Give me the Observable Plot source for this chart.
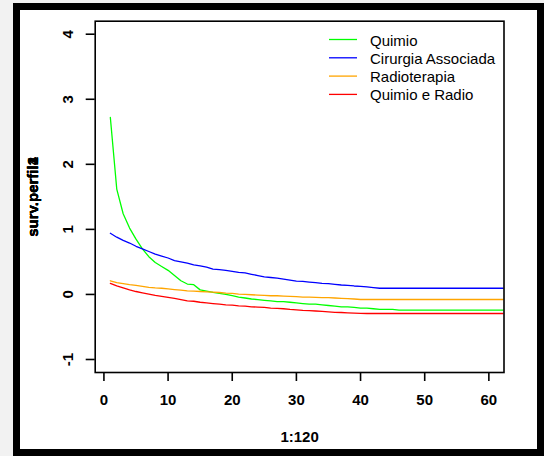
<!DOCTYPE html>
<html>
<head>
<meta charset="utf-8">
<script src="https://cdn.jsdelivr.net/npm/d3@7"></script>
<script src="https://cdn.jsdelivr.net/npm/@observablehq/plot@0.6"></script>
<style>
  html, body { margin: 0; padding: 0; background: #f2f2f2; }
  #wrap { position: relative; width: 544px; height: 456px; overflow: hidden;
          font-family: "Liberation Sans", Arial, sans-serif; }
  #frame { position: absolute; left: 13px; top: 3px; width: 531px; height: 453px;
           border: 7px solid #000; box-sizing: border-box; background: #fff; }
  #chart { position: absolute; left: 0; top: 0; }
  #legendLines { position: absolute; left: 0; top: 0; }
  .lg-text { position: absolute; font-size: 15px; line-height: 18px; color: #000; white-space: nowrap; }
  [aria-label="x-axis tick"] path, [aria-label="y-axis tick"] path,
  [aria-label="x-axis"] line, [aria-label="y-axis"] line { stroke-width: 1.6px; }
</style>
</head>
<body>
<div id="wrap">
  <div id="frame"></div>
  <div id="chart"></div>
</div>
<script>
// ---- data ----
const seriesNames = ["Quimio", "Cirurgia Associada", "Radioterapia", "Quimio e Radio"];
const seriesColors = ["#00ff00", "#0000ff", "#ffa500", "#ff0000"];

const quimio = [
  2.72, 1.62, 1.24, 1.02, 0.85, 0.70, 0.58, 0.49, 0.43, 0.37,
  0.29, 0.21, 0.16, 0.15, 0.07, 0.05, 0.03, 0.015, 0.00, -0.02,
  -0.04, -0.055, -0.07, -0.08, -0.09, -0.10, -0.11, -0.11, -0.12, -0.13,
  -0.14, -0.15, -0.15, -0.16, -0.17, -0.18, -0.19, -0.19, -0.20, -0.21,
  -0.21, -0.22, -0.23, -0.23, -0.23, -0.24, -0.24, -0.24, -0.24, -0.24,
  -0.24, -0.24, -0.24, -0.24, -0.24, -0.24, -0.24, -0.24, -0.24, -0.24,
  -0.24, -0.24, -0.24
];
const cirurgia = [
  0.94, 0.88, 0.83, 0.79, 0.74, 0.70, 0.66, 0.62, 0.59, 0.56,
  0.52, 0.50, 0.48, 0.455, 0.44, 0.42, 0.39, 0.38, 0.37, 0.355,
  0.34, 0.33, 0.31, 0.29, 0.27, 0.26, 0.25, 0.235, 0.22, 0.205,
  0.20, 0.19, 0.18, 0.17, 0.165, 0.155, 0.145, 0.14, 0.13, 0.125,
  0.115, 0.105, 0.095, 0.095, 0.095, 0.095, 0.095, 0.095, 0.095, 0.095,
  0.095, 0.095, 0.095, 0.095, 0.095, 0.095, 0.095, 0.095, 0.095, 0.095,
  0.095, 0.095, 0.095
];
const radioterapia = [
  0.21, 0.18, 0.165, 0.15, 0.14, 0.125, 0.11, 0.10, 0.095, 0.085,
  0.075, 0.065, 0.055, 0.05, 0.045, 0.04, 0.035, 0.03, 0.02, 0.015,
  0.005, 0.0, -0.005, -0.01, -0.015, -0.02, -0.02, -0.025, -0.03, -0.035,
  -0.04, -0.04, -0.045, -0.05, -0.05, -0.055, -0.06, -0.065, -0.07, -0.078,
  -0.078, -0.078, -0.078, -0.078, -0.078, -0.078, -0.078, -0.078, -0.078, -0.078,
  -0.078, -0.078, -0.078, -0.078, -0.078, -0.078, -0.078, -0.078, -0.078, -0.078,
  -0.078, -0.078, -0.078
];
const quimioRadio = [
  0.17, 0.13, 0.10, 0.07, 0.045, 0.025, 0.005, -0.015, -0.03, -0.045,
  -0.06, -0.08, -0.10, -0.105, -0.12, -0.13, -0.14, -0.15, -0.16, -0.165,
  -0.175, -0.18, -0.19, -0.195, -0.20, -0.21, -0.215, -0.22, -0.23, -0.237,
  -0.245, -0.25, -0.255, -0.26, -0.268, -0.275, -0.278, -0.283, -0.287, -0.29,
  -0.293, -0.293, -0.293, -0.293, -0.293, -0.293, -0.293, -0.293, -0.293, -0.293,
  -0.293, -0.293, -0.293, -0.293, -0.293, -0.293, -0.293, -0.293, -0.293, -0.293,
  -0.293, -0.293, -0.293
];
const seriesValues = [quimio, cirurgia, radioterapia, quimioRadio];

const xTicks = [0, 10, 20, 30, 40, 50, 60];
const yTicks = [-1, 0, 1, 2, 3, 4];
const xTitle = "1:120";
const yTitles = ["surv.perfil1", "surv.perfil2", "surv.perfil3", "surv.perfil4"];

// ---- table ----
const rows = [];
seriesNames.forEach((name, s) => {
  seriesValues[s].forEach((v, i) => rows.push({series: name, x: i + 1, v}));
});

const font = "'Liberation Sans', Arial, sans-serif";

const chart = Plot.plot({
  width: 544,
  height: 456,
  marginLeft: 94.7,
  marginRight: 40.5,
  marginTop: 20.7,
  marginBottom: 84,
  style: {background: "transparent", fontFamily: font, fontSize: "15px", color: "#000", overflow: "visible"},
  x: {domain: [-1.36, 62.36], ticks: xTicks, tickSize: 9, tickFormat: () => "", label: null},
  y: {domain: [-1.2, 4.2], ticks: yTicks, tickSize: 9, tickFormat: () => "", label: null},
  color: {domain: seriesNames, range: seriesColors},
  marks: [
    Plot.line(rows, {x: "x", y: "v", z: "series", stroke: "series", strokeWidth: 1.3, clip: true}),
    Plot.frame({stroke: "#000", strokeWidth: 1.6}),
    Plot.text(xTicks, {x: d => d, frameAnchor: "bottom", dy: 28, text: d => String(d),
      textAnchor: "middle", lineAnchor: "middle", fontWeight: "bold", fontSize: 15, fill: "#000"}),
    Plot.text(yTicks, {y: d => d, frameAnchor: "left", dx: -26.7, rotate: -90, text: d => String(d),
      textAnchor: "middle", lineAnchor: "middle", fontWeight: "bold", fontSize: 15, fill: "#000"}),
    Plot.text([xTitle], {frameAnchor: "bottom", dy: 65, text: d => d,
      textAnchor: "middle", lineAnchor: "middle", fontWeight: "bold", fontSize: 15, fill: "#000"}),
    Plot.text(yTitles, {frameAnchor: "left", dx: -61.7, rotate: -90, text: d => d,
      textAnchor: "middle", lineAnchor: "middle", fontWeight: "bold", fontSize: 15, fill: "#000"})
  ]
});
document.getElementById("chart").appendChild(chart);

// ---- legend (no box) ----
const wrap = document.getElementById("wrap");
const svgNS = "http://www.w3.org/2000/svg";
const lgSvg = document.createElementNS(svgNS, "svg");
lgSvg.setAttribute("id", "legendLines");
lgSvg.setAttribute("width", "544");
lgSvg.setAttribute("height", "120");
wrap.appendChild(lgSvg);
seriesNames.forEach((name, i) => {
  const yc = 39.5 + 18.3 * i;
  const ln = document.createElementNS(svgNS, "line");
  ln.setAttribute("x1", "329");
  ln.setAttribute("x2", "357");
  ln.setAttribute("y1", yc);
  ln.setAttribute("y2", yc);
  ln.setAttribute("stroke", seriesColors[i]);
  ln.setAttribute("stroke-width", "1.3");
  lgSvg.appendChild(ln);
  const tx = document.createElement("div");
  tx.className = "lg-text";
  tx.style.left = "370px";
  tx.style.top = (yc + 1 - 9) + "px";
  tx.textContent = name;
  wrap.appendChild(tx);
});
</script>
</body>
</html>
